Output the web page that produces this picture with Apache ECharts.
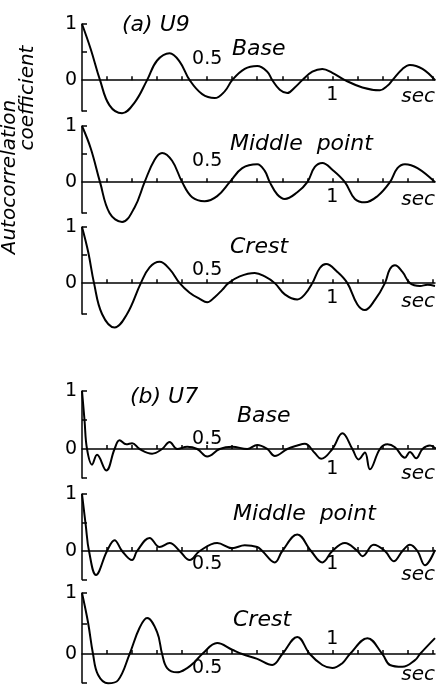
<!DOCTYPE html>
<html>
<head>
<meta charset="utf-8">
<script src="https://cdn.jsdelivr.net/npm/echarts@6/dist/echarts.min.js"></script>
<style>
html, body { margin: 0; padding: 0; background: #fff; }
#chart { width: 444px; height: 687px; }
</style>
</head>
<body>
<div id="chart"></div>
<script>
// autocorrelation vs lag, [sec, coefficient]
// (a) U9
var aBase = [[0,1.0],[0.035,0.55],[0.072,0],[0.11,-0.45],[0.16,-0.59],[0.21,-0.4],[0.26,0],[0.3,0.35],[0.35,0.48],[0.39,0.33],[0.43,0],[0.48,-0.25],[0.53,-0.32],[0.57,-0.2],[0.6,0],[0.65,0.2],[0.7,0.25],[0.74,0.15],[0.76,0],[0.79,-0.17],[0.82,-0.23],[0.85,-0.13],[0.88,0],[0.92,0.15],[0.96,0.2],[1.0,0.13],[1.05,0],[1.12,-0.13],[1.19,-0.18],[1.22,-0.1],[1.24,0],[1.28,0.2],[1.31,0.27],[1.36,0.2],[1.41,0]];
var aMiddle = [[0,1.0],[0.035,0.6],[0.072,0],[0.11,-0.55],[0.16,-0.71],[0.21,-0.45],[0.25,0],[0.29,0.4],[0.32,0.52],[0.36,0.38],[0.40,0],[0.44,-0.27],[0.49,-0.34],[0.54,-0.25],[0.59,0],[0.64,0.25],[0.70,0.32],[0.73,0.2],[0.75,0],[0.78,-0.22],[0.81,-0.3],[0.86,-0.18],[0.9,0],[0.93,0.27],[0.96,0.34],[1.0,0.22],[1.05,0],[1.09,-0.3],[1.13,-0.36],[1.18,-0.25],[1.23,0],[1.26,0.25],[1.29,0.32],[1.34,0.25],[1.41,0]];
var aCrest = [[0,1.0],[0.025,0.55],[0.048,0],[0.08,-0.55],[0.13,-0.79],[0.18,-0.55],[0.235,0],[0.27,0.28],[0.31,0.38],[0.35,0.25],[0.39,0],[0.43,-0.17],[0.47,-0.28],[0.5,-0.34],[0.53,-0.25],[0.56,-0.12],[0.585,0],[0.63,0.12],[0.69,0.18],[0.73,0.12],[0.77,0],[0.81,-0.2],[0.86,-0.29],[0.89,-0.2],[0.92,0],[0.95,0.27],[0.975,0.34],[1.02,0.2],[1.06,0],[1.1,-0.38],[1.13,-0.48],[1.17,-0.3],[1.21,0],[1.23,0.25],[1.25,0.32],[1.28,0.2],[1.31,0],[1.35,-0.05],[1.38,-0.03],[1.41,-0.05]];
// (b) U7
var bBase = [[0,1.0],[0.01,0.5],[0.02,0],[0.04,-0.27],[0.06,-0.1],[0.097,-0.37],[0.13,0],[0.15,0.15],[0.177,0.08],[0.2,0.1],[0.23,0],[0.28,-0.08],[0.32,0],[0.35,0.12],[0.38,0],[0.42,0.04],[0.46,0],[0.5,-0.13],[0.55,0],[0.6,0.04],[0.66,0],[0.7,0.07],[0.74,0],[0.77,-0.12],[0.82,0],[0.86,0.06],[0.89,0.09],[0.93,-0.07],[0.955,-0.17],[1.0,0],[1.04,0.27],[1.08,0],[1.105,-0.18],[1.13,-0.06],[1.15,-0.35],[1.19,0],[1.22,0.08],[1.25,0.03],[1.29,-0.15],[1.31,-0.05],[1.335,-0.16],[1.36,0],[1.39,0.06],[1.415,0]];
var bMiddle = [[0,1.0],[0.015,0.45],[0.028,0],[0.056,-0.42],[0.1,0],[0.13,0.19],[0.16,0],[0.2,-0.16],[0.22,0],[0.27,0.23],[0.31,0.07],[0.35,0.14],[0.39,0],[0.43,-0.16],[0.47,0],[0.54,0.14],[0.6,0.05],[0.65,0.1],[0.7,0.07],[0.72,0],[0.77,-0.2],[0.8,0],[0.86,0.29],[0.915,0],[0.96,-0.2],[1.0,0],[1.05,0.14],[1.1,0],[1.12,-0.09],[1.165,0.11],[1.21,0],[1.245,-0.18],[1.28,0],[1.31,0.11],[1.34,0],[1.37,-0.25],[1.41,0.02]];
var bCrest = [[0,1.0],[0.024,0.52],[0.044,0],[0.064,-0.34],[0.104,-0.48],[0.144,-0.43],[0.19,0],[0.23,0.43],[0.26,0.59],[0.3,0.36],[0.32,0],[0.34,-0.23],[0.38,-0.3],[0.42,-0.23],[0.45,-0.13],[0.48,0],[0.54,0.18],[0.6,0.07],[0.64,0],[0.7,-0.08],[0.76,-0.18],[0.8,0],[0.86,0.28],[0.91,0],[0.96,-0.18],[1.0,-0.23],[1.04,-0.15],[1.07,0],[1.14,0.26],[1.2,0],[1.23,-0.18],[1.28,-0.21],[1.33,-0.1],[1.35,0],[1.41,0.26]];

var seriesData = [aBase, aMiddle, aCrest, bBase, bMiddle, bCrest];
var panelNames = ['Base', 'Middle  point', 'Crest', 'Base', 'Middle  point', 'Crest'];
var groupNames = ['(a) U9', '(b) U7'];
var xTicks = [0.1, 0.2, 0.3, 0.4, 0.5, 0.6, 0.7, 0.8, 0.9, 1.0, 1.1, 1.2, 1.3, 1.4];
var yLabels = [0, 1];
var yMins = [-0.55, -0.55, -0.55, -0.5, -0.5, -0.47];
// which x tick labels sit above / below the zero line
var upLabels = [[0.5], [0.5], [0.5], [0.5], [], [1]];
var downLabels = [[1], [1], [1], [1], [0.5, 1], [0.5]];

// layout per panel
var gridTop = [24, 126, 227, 391, 494, 593];
var gridHeight = [87, 87, 87, 87, 85.5, 89.7];
var upMargin = [12, 12, 4, 0, 0, 5];
var downMargin = [5, 5, 5, 11, 4, 5];
var secPad = [7, 8, 9, 15, 14, 11];
var nameXY = [[232, 49], [230, 144], [230, 247], [237, 416], [233, 514], [233, 620]];
var groupXY = [[122, 25], [130, 397]];

var numFont = { color: '#000', fontSize: 19, fontFamily: 'DejaVu Sans' };
var lineCol = { color: '#000', width: 1.5 };
var X0 = 82, XW = 353, XMAX = 1.41;

var chart = echarts.init(document.getElementById('chart'), null, { renderer: 'canvas' });

var grids = [], xAxes = [], yAxes = [], series = [], graphics = [];
var auxGrids = [], auxX = [], auxY = [];
for (var i = 0; i < 6; i++) {
    var zeroY = gridTop[i] + gridHeight[i] / (1 - yMins[i]);
    var bottomY = gridTop[i] + gridHeight[i];
    grids.push({ left: X0, width: XW, top: gridTop[i], height: gridHeight[i], outerBoundsMode: 'none', containLabel: false });
    xAxes.push({
        type: 'value', gridIndex: i, min: 0, max: XMAX, position: 'bottom',
        axisLine: { onZero: true, onZeroAxisIndex: i, lineStyle: lineCol },
        axisTick: { inside: true, length: 4, customValues: xTicks, lineStyle: lineCol },
        axisLabel: { show: false },
        splitLine: { show: false },
        name: 'sec', nameLocation: 'end', nameGap: 0, nameMoveOverlap: false,
        nameTextStyle: { color: '#000', fontSize: 20, fontStyle: 'italic', fontFamily: 'DejaVu Sans', align: 'right', verticalAlign: 'top', padding: [secPad[i], 0, 0, 0] }
    });
    yAxes.push({
        type: 'value', gridIndex: i, min: yMins[i], max: 1, position: 'left',
        axisLine: { onZero: false, lineStyle: lineCol },
        axisTick: { inside: true, length: 5, customValues: [yMins[i], 0.5, 1], lineStyle: lineCol },
        axisLabel: Object.assign({ customValues: yLabels, margin: 5 }, numFont),
        splitLine: { show: false }
    });
    series.push({
        type: 'line', xAxisIndex: i, yAxisIndex: i, data: seriesData[i],
        smooth: 0.4, symbol: 'none', clip: false, silent: true,
        lineStyle: { color: '#000', width: 2 }
    });

    // helper grids whose edges sit on the zero line, only to carry the x tick labels
    auxGrids.push({ left: X0, width: XW, top: gridTop[i], height: zeroY - gridTop[i], outerBoundsMode: 'none', containLabel: false });
    auxGrids.push({ left: X0, width: XW, top: zeroY, height: bottomY - zeroY, outerBoundsMode: 'none', containLabel: false });
    auxX.push({
        type: 'value', gridIndex: 6 + 2 * i, min: 0, max: XMAX, position: 'bottom',
        axisLine: { show: false, onZero: false }, axisTick: { show: false }, splitLine: { show: false },
        axisLabel: Object.assign({ show: downLabels[i].length > 0, customValues: downLabels[i], margin: downMargin[i] }, numFont)
    });
    auxX.push({
        type: 'value', gridIndex: 7 + 2 * i, min: 0, max: XMAX, position: 'top',
        axisLine: { show: false, onZero: false }, axisTick: { show: false }, splitLine: { show: false },
        axisLabel: Object.assign({ show: upLabels[i].length > 0, customValues: upLabels[i], margin: upMargin[i] }, numFont)
    });
    auxY.push({ type: 'value', gridIndex: 6 + 2 * i, min: 0, max: 1, show: false });
    auxY.push({ type: 'value', gridIndex: 7 + 2 * i, min: 0, max: 1, show: false });

    graphics.push({
        type: 'text', x: nameXY[i][0], y: nameXY[i][1],
        style: { text: panelNames[i], fill: '#000', font: 'italic 22px "DejaVu Sans"', align: 'left', verticalAlign: 'middle' }
    });
}
for (var g = 0; g < 2; g++) {
    graphics.push({
        type: 'text', x: groupXY[g][0], y: groupXY[g][1],
        style: { text: groupNames[g], fill: '#000', font: 'italic 22px "DejaVu Sans"', align: 'left', verticalAlign: 'middle' }
    });
}
// y title, two lines rotated
graphics.push({
    type: 'text', x: 10, y: 177, rotation: Math.PI / 2,
    style: { text: 'Autocorrelation', fill: '#000', font: 'italic 20px "DejaVu Sans"', align: 'center', verticalAlign: 'middle' }
});
graphics.push({
    type: 'text', x: 28, y: 98, rotation: Math.PI / 2,
    style: { text: 'coefficient', fill: '#000', font: 'italic 20px "DejaVu Sans"', align: 'center', verticalAlign: 'middle' }
});

chart.setOption({
    backgroundColor: '#fff',
    animation: false,
    grid: grids.concat(auxGrids),
    xAxis: xAxes.concat(auxX),
    yAxis: yAxes.concat(auxY),
    series: series,
    graphic: graphics
});
</script>
</body>
</html>
